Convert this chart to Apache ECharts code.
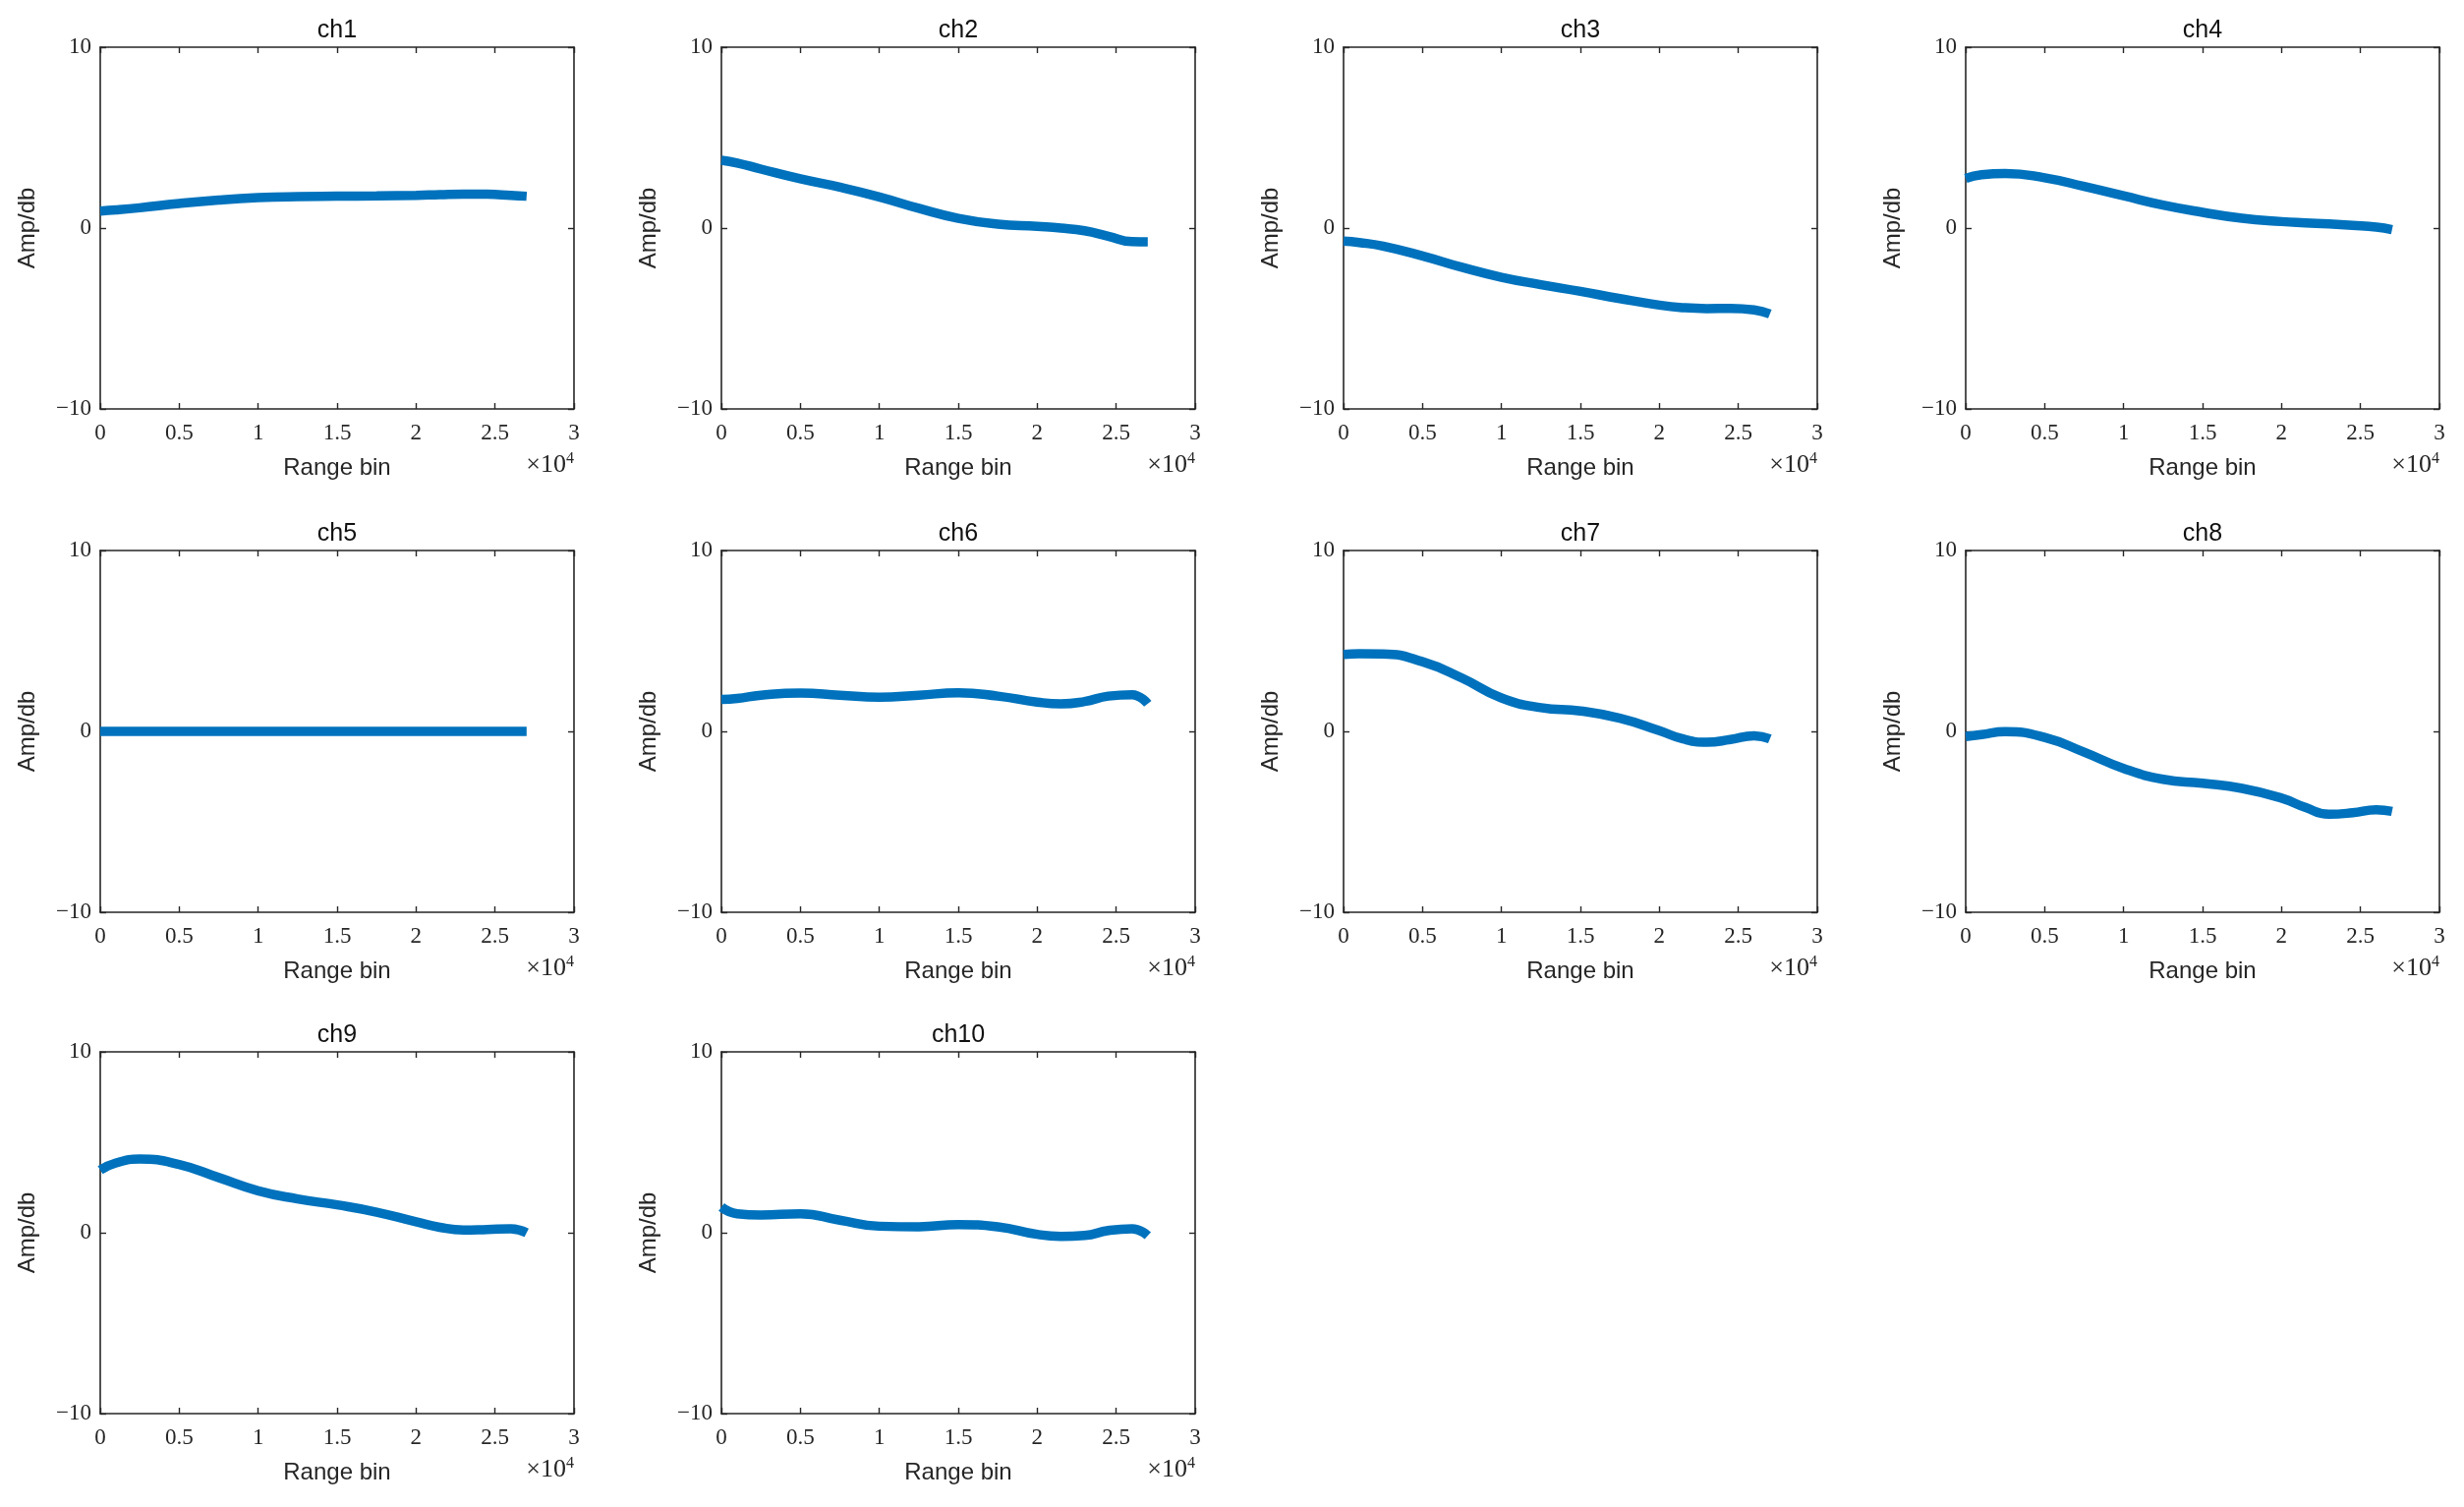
<!DOCTYPE html>
<html>
<head>
<meta charset="utf-8">
<script src="https://cdn.jsdelivr.net/npm/echarts@6/dist/echarts.min.js"></script>
<style>
html,body{margin:0;padding:0;background:#fff;}
#chart{width:2507px;height:1533px;}
</style>
</head>
<body>
<div id="chart"></div>
<script>
// Range-bin sample positions (bins)
const rangeBins = [0, 1000, 2500, 5000, 7500, 10000, 12500, 15000, 17500, 20000, 21500, 23000, 24500, 26000, 27000];
// Channel amplitudes (dB) read at those positions
const ch1 = [0.94, 1.00, 1.12, 1.36, 1.55, 1.68, 1.74, 1.76, 1.78, 1.81, 1.85, 1.88, 1.87, 1.81, 1.76];
const ch2 = [3.75, 3.60, 3.26, 2.72, 2.26, 1.72, 1.09, 0.54, 0.22, 0.09, 0.00, -0.15, -0.45, -0.75, -0.76];
const ch3 = [-0.72, -0.80, -1.00, -1.54, -2.17, -2.72, -3.13, -3.50, -3.90, -4.26, -4.40, -4.45, -4.44, -4.52, -4.75];
const ch4 = [2.75, 2.95, 3.02, 2.78, 2.30, 1.78, 1.27, 0.87, 0.54, 0.36, 0.29, 0.23, 0.15, 0.05, -0.09];
const ch5 = [0, 0, 0, 0, 0, 0, 0, 0, 0, 0, 0, 0, 0, 0, 0];
const ch6 = [1.76, 1.82, 2.00, 2.12, 2.00, 1.89, 2.00, 2.13, 1.95, 1.62, 1.52, 1.65, 1.95, 2.03, 1.53];
const ch7 = [4.25, 4.29, 4.28, 3.85, 2.95, 1.85, 1.31, 1.13, 0.73, 0.04, -0.42, -0.60, -0.45, -0.24, -0.42];
const ch8 = [-0.29, -0.18, -0.02, -0.33, -1.15, -2.05, -2.65, -2.87, -3.15, -3.69, -4.20, -4.58, -4.50, -4.33, -4.42];
const ch9 = [3.47, 3.86, 4.07, 3.77, 3.05, 2.32, 1.87, 1.54, 1.14, 0.60, 0.30, 0.15, 0.18, 0.22, 0.00];
const ch10 = [1.42, 1.05, 0.98, 1.05, 0.69, 0.36, 0.33, 0.45, 0.33, -0.09, -0.20, -0.15, 0.12, 0.22, -0.16];

const channelNames = ['ch1','ch2','ch3','ch4','ch5','ch6','ch7','ch8','ch9','ch10'];
const channelValues = [ch1, ch2, ch3, ch4, ch5, ch6, ch7, ch8, ch9, ch10];
const xLabel = 'Range bin';
const yLabel = 'Amp/db';

// layout
const colLefts = [102, 734, 1367, 2000];
const rowTops = [48, 560, 1070];
const gw = 482, gh = 368;
const axisColor = '#262626';
const serif = '"Liberation Serif", "DejaVu Serif", serif';
const sans = '"Liberation Sans", Arial, sans-serif';

const grids = [], xAxes = [], yAxes = [], series = [], graphics = [];
channelNames.forEach((name, i) => {
  const left = colLefts[i % 4], top = rowTops[Math.floor(i / 4)];
  grids.push({left: left, top: top, width: gw, height: gh, containLabel: false});
  const xBase = {
    type: 'value', gridIndex: i, min: 0, max: 30000, interval: 5000,
    axisLine: {show: true, onZero: false, lineStyle: {color: axisColor, width: 1.6}},
    axisTick: {show: true, inside: true, length: 6, lineStyle: {color: axisColor, width: 1.4}},
    splitLine: {show: false}
  };
  xAxes.push(Object.assign({}, xBase, {
    position: 'bottom',
    name: xLabel, nameLocation: 'middle', nameGap: 48,
    nameTextStyle: {fontFamily: sans, fontSize: 24, color: '#262626'},
    axisLabel: {show: true, margin: 13, fontFamily: serif, fontSize: 23, color: '#262626',
      formatter: v => String(v / 10000)}
  }));
  xAxes.push(Object.assign({}, xBase, {position: 'top', axisLabel: {show: false}}));
  const yBase = {
    type: 'value', gridIndex: i, min: -10, max: 10, interval: 10,
    axisLine: {show: true, onZero: false, lineStyle: {color: axisColor, width: 1.6}},
    axisTick: {show: true, inside: true, length: 6, lineStyle: {color: axisColor, width: 1.4}},
    splitLine: {show: false}
  };
  yAxes.push(Object.assign({}, yBase, {
    position: 'left',
    name: yLabel, nameLocation: 'middle', nameGap: 62, nameRotate: 90,
    nameTextStyle: {fontFamily: sans, fontSize: 24, color: '#262626'},
    axisLabel: {show: true, margin: 9, fontFamily: serif, fontSize: 23, color: '#262626',
      formatter: v => (v < 0 ? '\u2212' + Math.abs(v) : String(v))}
  }));
  yAxes.push(Object.assign({}, yBase, {position: 'right', axisLabel: {show: false}}));
  series.push({
    type: 'line', xAxisIndex: 2 * i, yAxisIndex: 2 * i,
    data: rangeBins.map((x, k) => [x, channelValues[i][k]]),
    smooth: 0.5, showSymbol: false, silent: true,
    lineStyle: {color: '#0072BD', width: 9.5, cap: 'butt'}
  });
  graphics.push({
    type: 'text', x: left + gw / 2, y: top - 17,
    style: {text: name, fontFamily: sans, fontSize: 25, fill: '#111', align: 'center', verticalAlign: 'middle'}
  });
  graphics.push({
    type: 'text', x: left + gw, y: top + gh + 57,
    style: {
      text: '\u00d710{s|4}', fontFamily: serif, fontSize: 26, fill: '#262626',
      align: 'right', verticalAlign: 'middle',
      rich: {s: {fontFamily: serif, fontSize: 16, fill: '#262626', verticalAlign: 'top', padding: [0, 0, 12, 0]}}
    }
  });
});

const chart = echarts.init(document.getElementById('chart'));
chart.setOption({
  backgroundColor: '#ffffff',
  animation: false,
  grid: grids, xAxis: xAxes, yAxis: yAxes, series: series, graphic: graphics
});
</script>
</body>
</html>
